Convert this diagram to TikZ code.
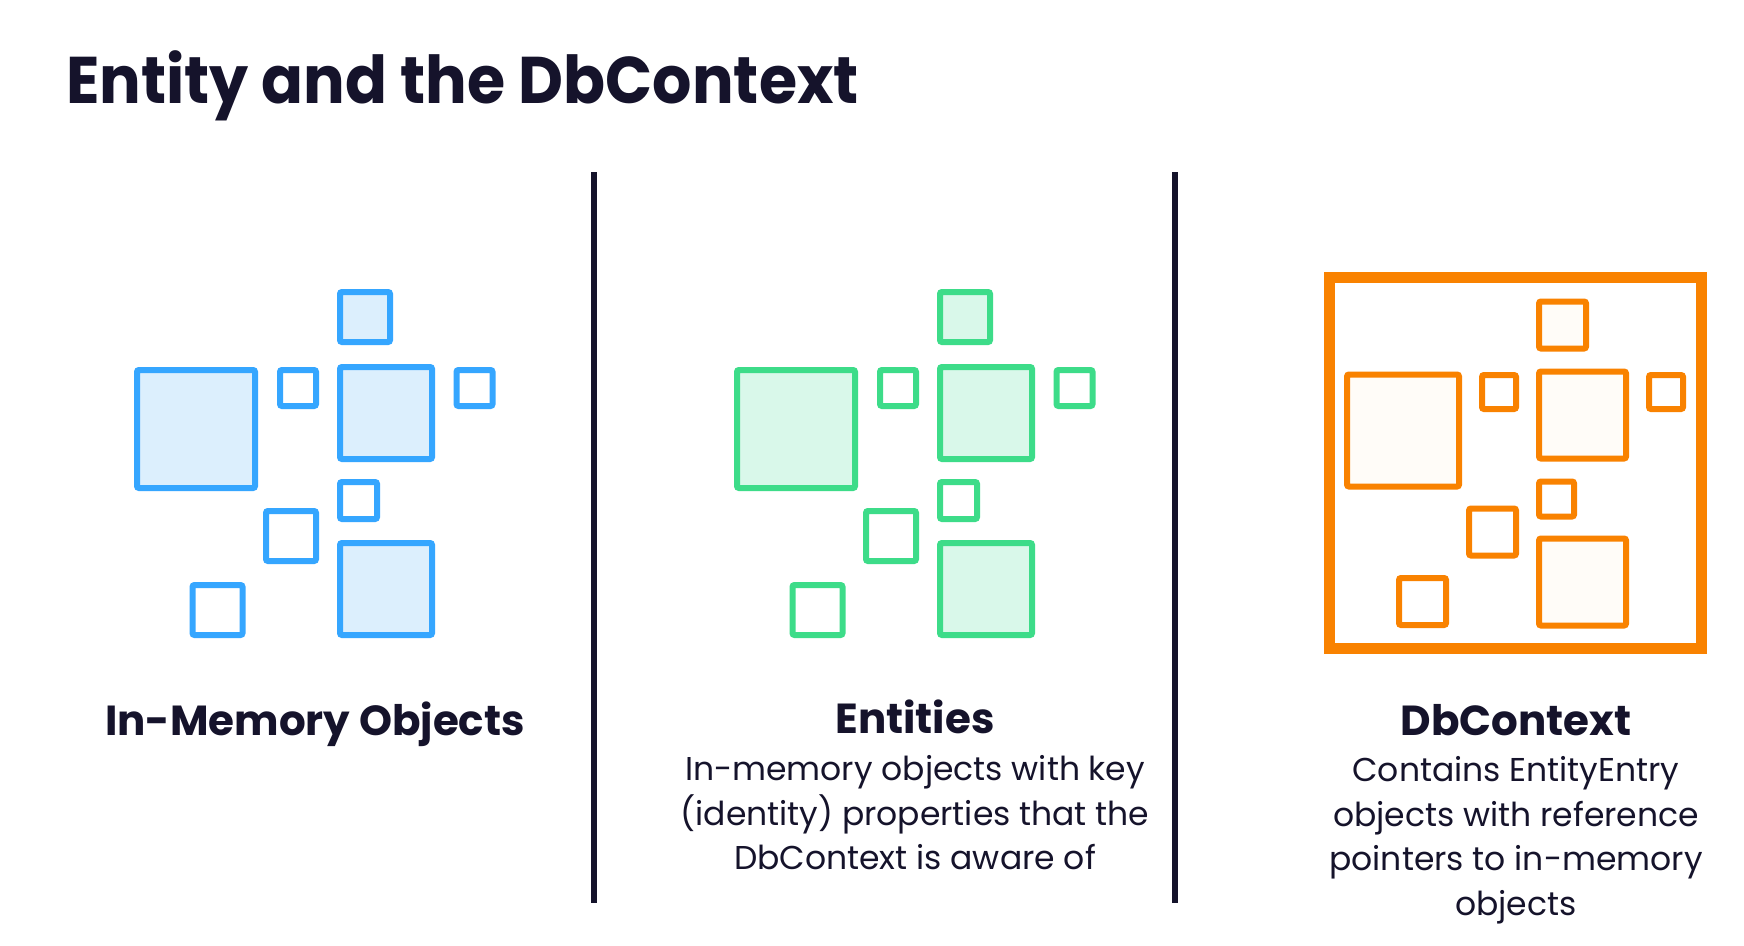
\documentclass[tikz,border=0pt]{standalone}
\usepackage{fontspec}
\setmainfont{Poppins}
\usepackage{tikz}

\definecolor{ink}{HTML}{15132B}
\definecolor{bluestroke}{HTML}{35A6FF}
\definecolor{bluefill}{HTML}{DCEFFD}
\definecolor{greenstroke}{HTML}{3DDC89}
\definecolor{greenfill}{HTML}{D9F8EA}
\definecolor{orangestroke}{HTML}{F98200}
\definecolor{orangefill}{HTML}{FFFCF8}

\tikzset{
	obj/.style={shape=rectangle,line width=6pt,inner sep=0pt,rounded corners=2pt,minimum size=#1},
	blueobj/.style={obj=#1,draw=bluestroke,fill=white},
	greenobj/.style={obj=#1,draw=greenstroke,fill=white},
	orangeobj/.style={obj=#1,draw=orangestroke,fill=white},
	heading/.style={text=ink,font=\bfseries\fontsize{42}{42}\selectfont,inner sep=0pt,anchor=base},
	caption/.style={text=ink,font=\fontsize{33}{44.5}\selectfont,inner sep=0pt,align=center,anchor=north},
	divider/.style={draw=ink,line width=6pt}
}

\begin{document}
\begin{tikzpicture}[x=1pt,y=-1pt]
	\useasboundingbox[fill=white] (0,0) rectangle (1744,945);

	\node[text=ink,font=\bfseries\fontsize{66}{66}\selectfont,inner sep=0pt,anchor=base west] (title) at (66,103) {\scalebox{0.937}[1]{Entity and the DbContext}};

	% in-memory objects
	\node[blueobj=118pt,fill=bluefill] (b1) at (196,429) {};
	\node[blueobj=50pt,fill=bluefill] (b2) at (365,317) {};
	\node[blueobj=36pt] (b3) at (298,388) {};
	\node[blueobj=92pt,fill=bluefill] (b4) at (386,413) {};
	\node[blueobj=36pt] (b5) at (474.5,388) {};
	\node[blueobj=37pt] (b6) at (358.5,500.5) {};
	\node[blueobj=50pt] (b7) at (291,536) {};
	\node[blueobj=92pt,fill=bluefill] (b8) at (386,589) {};
	\node[blueobj=50pt] (b9) at (217.5,610) {};

	% entities
	\node[greenobj=118pt,fill=greenfill] (g1) at (796,429) {};
	\node[greenobj=50pt,fill=greenfill] (g2) at (965,317) {};
	\node[greenobj=36pt] (g3) at (898,388) {};
	\node[greenobj=92pt,fill=greenfill] (g4) at (986,413) {};
	\node[greenobj=36pt] (g5) at (1074.5,388) {};
	\node[greenobj=37pt] (g6) at (958.5,500.5) {};
	\node[greenobj=50pt] (g7) at (891,536) {};
	\node[greenobj=92pt,fill=greenfill] (g8) at (986,589) {};
	\node[greenobj=50pt] (g9) at (817.5,610) {};

	% dbcontext
	\node[shape=rectangle,draw=orangestroke,line width=11pt,minimum width=372pt,minimum height=371pt,inner sep=0pt] (ctx) at (1515.5,463) {};
	\node[orangeobj=112pt,fill=orangefill] (o1) at (1403,430.5) {};
	\node[orangeobj=47pt,fill=orangefill] (o2) at (1562.5,325) {};
	\node[orangeobj=34pt] (o3) at (1499,392) {};
	\node[orangeobj=87pt,fill=orangefill] (o4) at (1582.5,415) {};
	\node[orangeobj=34pt] (o5) at (1666,392) {};
	\node[orangeobj=35pt] (o6) at (1556.5,499) {};
	\node[orangeobj=47pt] (o7) at (1492.5,532) {};
	\node[orangeobj=87pt,fill=orangefill] (o8) at (1582.5,582) {};
	\node[orangeobj=47pt] (o9) at (1422.5,601.5) {};

	% dividers
	\coordinate (d1top) at (594,172);
	\coordinate (d1bot) at (594,903);
	\coordinate (d2top) at (1175,172);
	\coordinate (d2bot) at (1175,903);
	\path[divider] (d1top) -- (d1bot);
	\path[divider] (d2top) -- (d2bot);

	\node[heading] (memhead) at (315,735) {In-Memory Objects};
	\node[heading] (enthead) at (915,733) {Entities};
	\node[caption] (enttext) at (915,755.5) {In-memory objects with key\\(identity) properties that the\\DbContext is aware of};
	\node[heading] (ctxhead) at (1516,735) {DbContext};
	\node[caption] (ctxtext) at (1516,756.5) {Contains EntityEntry\\objects with reference\\pointers to in-memory\\objects};

\end{tikzpicture}
\end{document}
